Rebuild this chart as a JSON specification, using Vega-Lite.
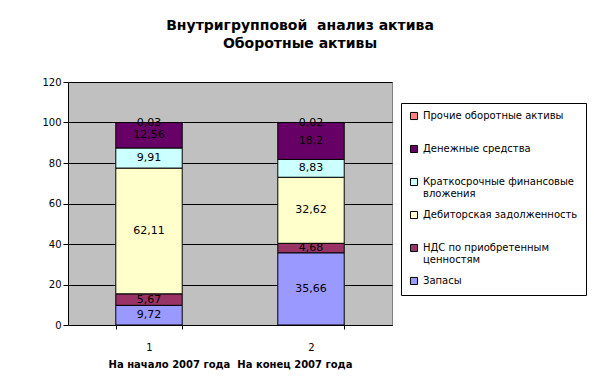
{
  "$schema": "https://vega.github.io/schema/vega-lite/v6.json",
  "width": 324,
  "height": 243,
  "autosize": {"type": "none"},
  "padding": {"left": 68, "top": 82, "right": 202, "bottom": 62},
  "background": "white",
  "title": {
    "text": ["Внутригрупповой \u00a0анализ актива", "Оборотные активы"],
    "font": "DejaVu Sans",
    "fontSize": 14,
    "fontWeight": "bold",
    "color": "black",
    "anchor": "middle",
    "frame": "group",
    "dx": 70,
    "offset": 26,
    "lineHeight": 18
  },
  "data": {
    "values": [
      {"period": "1", "item": "Запасы", "k": 1, "value": 9.72},
      {"period": "1", "item": "НДС по приобретенным ценностям", "k": 2, "value": 5.67},
      {"period": "1", "item": "Дебиторская задолженность", "k": 3, "value": 62.11},
      {"period": "1", "item": "Краткосрочные финансовые вложения", "k": 4, "value": 9.91},
      {"period": "1", "item": "Денежные средства", "k": 5, "value": 12.56},
      {"period": "1", "item": "Прочие оборотные активы", "k": 6, "value": 0.03},
      {"period": "2", "item": "Запасы", "k": 1, "value": 35.66},
      {"period": "2", "item": "НДС по приобретенным ценностям", "k": 2, "value": 4.68},
      {"period": "2", "item": "Дебиторская задолженность", "k": 3, "value": 32.62},
      {"period": "2", "item": "Краткосрочные финансовые вложения", "k": 4, "value": 8.83},
      {"period": "2", "item": "Денежные средства", "k": 5, "value": 18.2},
      {"period": "2", "item": "Прочие оборотные активы", "k": 6, "value": 0.02}
    ]
  },
  "transform": [
    {"stack": "value", "groupby": ["period"], "sort": [{"field": "k", "order": "ascending"}], "as": ["y0", "y1"]},
    {"calculate": "(datum.y0 + datum.y1) / 2", "as": "ymid"}
  ],
  "encoding": {
    "x": {
      "field": "period",
      "type": "nominal",
      "scale": {"paddingInner": 0.59, "paddingOuter": 0.295},
      "axis": {
        "title": "На начало 2007 года \u00a0На конец 2007 года",
        "titleFont": "DejaVu Sans",
        "titleFontSize": 10,
        "titleFontWeight": "bold",
        "titleColor": "black",
        "titlePadding": 7,
        "labelAngle": 0,
        "labelFont": "DejaVu Sans",
        "labelFontSize": 10,
        "labelColor": "black",
        "labelPadding": 13,
        "tickBand": "extent",
        "tickColor": "black",
        "tickSize": 4,
        "domainColor": "black",
        "grid": false
      }
    }
  },
  "layer": [
    {
      "mark": {"type": "bar", "stroke": "black", "strokeWidth": 1},
      "encoding": {
        "y": {
          "field": "y0",
          "type": "quantitative",
          "scale": {"domain": [0, 120]},
          "axis": {
            "title": null,
            "values": [0, 20, 40, 60, 80, 100, 120],
            "labelFont": "DejaVu Sans",
            "labelFontSize": 10,
            "labelColor": "black",
            "tickColor": "black",
            "tickSize": 5,
            "domainColor": "black",
            "gridColor": "black",
            "gridOpacity": 1,
            "gridWidth": 1
          }
        },
        "y2": {"field": "y1"},
        "color": {
          "field": "item",
          "type": "nominal",
          "scale": {
            "domain": ["Прочие оборотные активы", "Денежные средства", "Краткосрочные финансовые вложения", "Дебиторская задолженность", "НДС по приобретенным ценностям", "Запасы"],
            "range": ["#FF8080", "#660066", "#CCFFFF", "#FFFFCC", "#993366", "#9999FF"]
          },
          "legend": {
            "title": null,
            "orient": "none",
            "legendX": 333,
            "legendY": 21,
            "direction": "vertical",
            "strokeColor": "black",
            "fillColor": "white",
            "padding": 8,
            "labelFont": "DejaVu Sans",
            "labelFontSize": 10,
            "labelColor": "black",
            "labelLimit": 200,
            "symbolType": "square",
            "symbolSize": 50,
            "symbolStrokeColor": "black",
            "symbolStrokeWidth": 1,
            "symbolOpacity": 1,
            "gridAlign": "all",
            "rowPadding": 10,
            "labelExpr": "datum.label == 'Краткосрочные финансовые вложения' ? ['Краткосрочные финансовые', 'вложения'] : datum.label == 'НДС по приобретенным ценностям' ? ['НДС по приобретенным', 'ценностям'] : datum.label"
          }
        }
      }
    },
    {
      "mark": {"type": "text", "font": "DejaVu Sans", "fontSize": 11, "color": "black"},
      "encoding": {
        "y": {"field": "ymid", "type": "quantitative"},
        "text": {"field": "value", "type": "quantitative", "format": ".4~g"}
      }
    }
  ],
  "config": {
    "locale": {"number": {"decimal": ",", "thousands": " ", "grouping": [3], "currency": ["", ""]}},
    "view": {"fill": "#C0C0C0", "stroke": "#808080", "strokeWidth": 1}
  }
}
